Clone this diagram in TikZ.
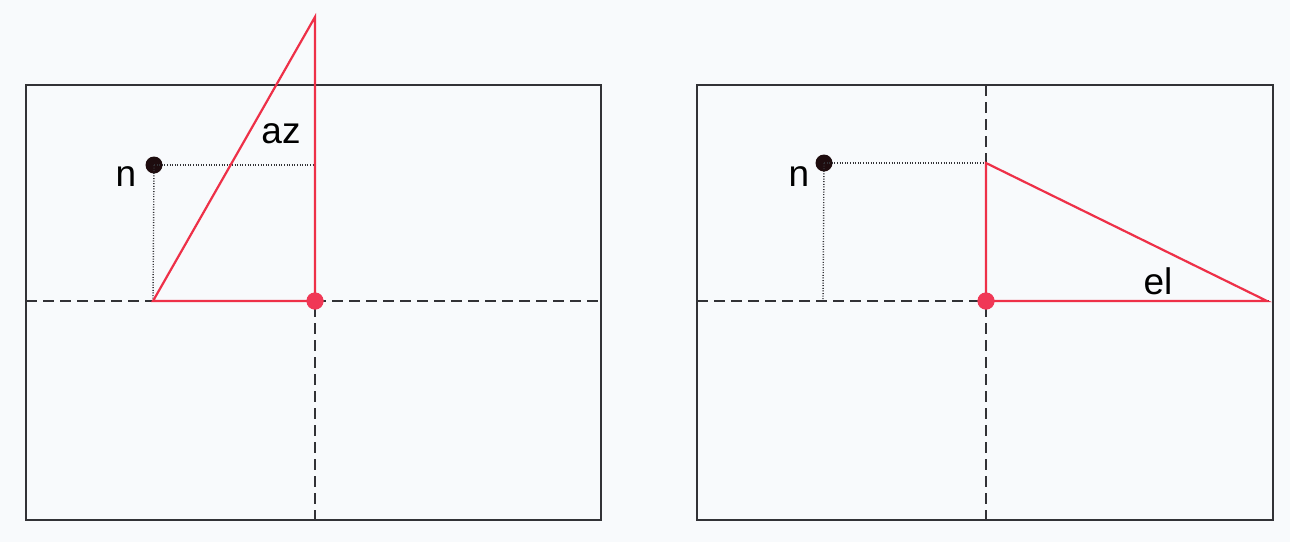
\documentclass[tikz,border=0pt]{standalone}
\usepackage{fontspec}
\setmainfont{Liberation Sans}
\definecolor{bg}{RGB}{248,250,252}
\definecolor{redl}{RGB}{238,48,72}
\definecolor{redd}{RGB}{240,56,86}
\definecolor{frame}{RGB}{50,50,54}
\definecolor{ndot}{RGB}{30,12,14}
\tikzset{
  framebox/.style={draw=frame, line width=2.2pt},
  axis/.style={draw=frame, line width=2.2pt, dash pattern=on 11pt off 6pt},
  proj/.style={draw=frame, line width=1.4pt, dash pattern=on 1pt off 1.6pt},
  redline/.style={draw=redl, line width=2.2pt},
  lbl/.style={font=\fontsize{37}{40}\selectfont, text=black, inner sep=0pt, anchor=base},
  reddot/.style={circle, fill=redd, minimum size=17pt, inner sep=0pt},
  blackdot/.style={circle, fill=ndot, minimum size=17pt, inner sep=0pt},
}
\begin{document}
\begin{tikzpicture}[x=1pt, y=-1pt]
\fill[bg] (0,0) rectangle (1290,542);
\useasboundingbox (0,0) rectangle (1290,542);
% ---------- left panel ----------
\coordinate (LTL) at (26,85);
\coordinate (LBR) at (601,520);
\draw[framebox] (LTL) rectangle (LBR);
\coordinate (LHa) at (26,301);
\coordinate (LHb) at (601,301);
\coordinate (LVa) at (315,85);
\coordinate (LVb) at (315,520);
\draw[axis] (LHa) -- (LHb);
\draw[axis] (LVa) -- (LVb);
\coordinate (Lbase) at (153,301);
\coordinate (Lapex) at (315,17);
\coordinate (Lproj) at (315,165);
\node[blackdot] (Ln) at (154,165) {};
\draw[proj] (Ln.center) -- (Lproj);
\draw[proj] (Ln.center) -- (Lbase);
\node[reddot] (Lorig) at (315,301) {};
\draw[redline] (Lbase) -- (Lapex) -- (Lorig.center) -- cycle;
\node[reddot] at (Lorig) {};
\node[lbl] (Laz) at (281,143) {az};
\node[lbl] (Lnl) at (126,186) {n};
% ---------- right panel ----------
\coordinate (RTL) at (697,85);
\coordinate (RBR) at (1273,520);
\draw[framebox] (RTL) rectangle (RBR);
\coordinate (RHa) at (697,301);
\coordinate (RHb) at (1273,301);
\coordinate (RVa) at (986,85);
\coordinate (RVb) at (986,520);
\draw[axis] (RHa) -- (RHb);
\draw[axis] (RVa) -- (RVb);
\coordinate (Rtop) at (986,163);
\coordinate (Rtip) at (1267,301);
\coordinate (Rbase) at (823,301);
\node[blackdot] (Rn) at (824,163) {};
\draw[proj] (Rn.center) -- (Rtop);
\draw[proj] (Rn.center) -- (Rbase);
\node[reddot] (Rorig) at (986,301) {};
\draw[redline] (Rtop) -- (Rorig.center) -- (Rtip) -- cycle;
\node[reddot] at (Rorig) {};
\node[lbl] (Rel) at (1158,294) {el};
\node[lbl] (Rnl) at (799,186) {n};
\end{tikzpicture}
\end{document}
